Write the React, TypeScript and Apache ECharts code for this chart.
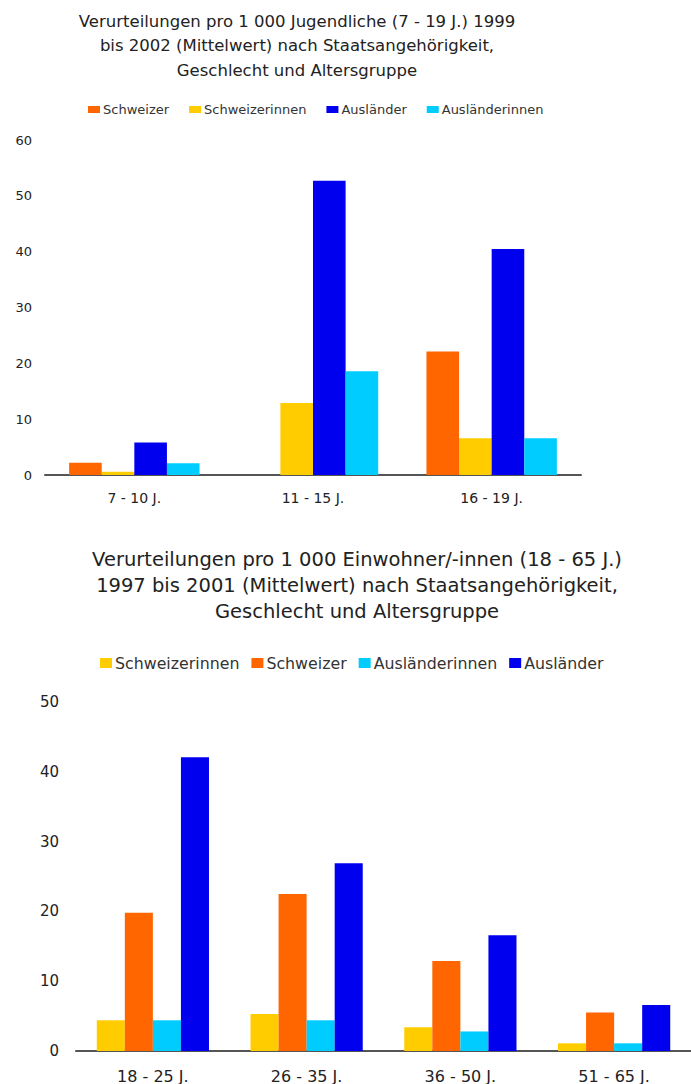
import React, { useEffect, useRef } from "react";
import * as echarts from "echarts";

const topCategories = ["7 - 10 J.", "11 - 15 J.", "16 - 19 J."];
const topSchweizer = [2.2, 0, 22.1];
const topSchweizerinnen = [0.6, 12.9, 6.6];
const topAuslaender = [5.8, 52.7, 40.5];
const topAuslaenderinnen = [2.1, 18.6, 6.6];
const topTicks = { min: 0, max: 60, interval: 10 };

const botCategories = ["18 - 25 J.", "26 - 35 J.", "36 - 50 J.", "51 - 65 J."];
const botSchweizerinnen = [4.4, 5.3, 3.4, 1.1];
const botSchweizer = [19.8, 22.5, 12.9, 5.5];
const botAuslaenderinnen = [4.4, 4.4, 2.8, 1.1];
const botAuslaender = [42.1, 26.9, 16.6, 6.6];
const botTicks = { min: 0, max: 50, interval: 10 };

const topTitle = "Verurteilungen pro 1 000 Jugendliche (7 - 19 J.) 1999\nbis 2002 (Mittelwert) nach Staatsangehörigkeit,\nGeschlecht und Altersgruppe";
const botTitle = "Verurteilungen pro 1 000 Einwohner/-innen (18 - 65 J.)\n1997 bis 2001 (Mittelwert) nach Staatsangehörigkeit,\nGeschlecht und Altersgruppe";

const ORANGE = "#FF6600";
const YELLOW = "#FFCC00";
const BLUE = "#0000EE";
const CYAN = "#00CCFF";
const FONT = "'DejaVu Sans'";

export default function App() {
  const ref = useRef<HTMLDivElement>(null);
  useEffect(() => {
    if (!ref.current) return;
    const chart = echarts.init(ref.current, undefined, { renderer: "svg" });
    const bar = (name: string, data: number[], color: string, idx: number) => ({
      name,
      type: "bar",
      xAxisIndex: idx,
      yAxisIndex: idx,
      data,
      barGap: "0%",
      barCategoryGap: "27%",
      itemStyle: { color },
      emphasis: { disabled: true },
    });
    chart.setOption({
      animation: false,
      backgroundColor: "#ffffff",
      graphic: [
        {
          type: "text",
          x: 297,
          y: 9,
          style: {
            text: topTitle,
            textAlign: "center",
            textVerticalAlign: "top",
            font: `16.5px ${FONT}`,
            lineHeight: 24.5,
            fill: "#222",
          },
        },
        {
          type: "text",
          x: 357,
          y: 546,
          style: {
            text: botTitle,
            textAlign: "center",
            textVerticalAlign: "top",
            font: `19.5px ${FONT}`,
            lineHeight: 26,
            fill: "#222",
          },
        },
      ],
      legend: [
        {
          left: 83,
          top: 98,
          itemWidth: 12,
          itemHeight: 7,
          itemGap: 20,
          icon: "rect",
          data: ["Schweizer", "Schweizerinnen", "Ausländer", "Ausländerinnen"],
          textStyle: { fontFamily: FONT, fontSize: 13, color: "#333", padding: [0, 0, 0, -2] },
          selectedMode: false,
        },
        {
          left: 95,
          top: 650,
          itemWidth: 12,
          itemHeight: 10,
          itemGap: 12,
          icon: "rect",
          data: ["Schweizerinnen", "Schweizer", "Ausländerinnen", "Ausländer"],
          textStyle: { fontFamily: FONT, fontSize: 15.8, color: "#333", padding: [0, 0, 0, -2] },
          selectedMode: false,
        },
      ],
      grid: [
        { left: 45, right: 110, top: 140, bottom: 609 },
        { left: 76, right: -7, top: 702, bottom: 33 },
      ],
      xAxis: [
        {
          type: "category",
          gridIndex: 0,
          data: topCategories,
          axisLine: { lineStyle: { color: "#555", width: 2 } },
          axisTick: { show: false },
          axisLabel: { fontFamily: FONT, fontSize: 14, color: "#222", margin: 16 },
        },
        {
          type: "category",
          gridIndex: 1,
          data: botCategories,
          axisLine: { lineStyle: { color: "#555", width: 2 } },
          axisTick: { show: false },
          axisLabel: { fontFamily: FONT, fontSize: 16, color: "#222", margin: 17 },
        },
      ],
      yAxis: [
        {
          type: "value",
          gridIndex: 0,
          ...topTicks,
          axisLine: { show: false },
          axisTick: { show: false },
          splitLine: { show: false },
          axisLabel: { fontFamily: FONT, fontSize: 13, color: "#222", margin: 13 },
        },
        {
          type: "value",
          gridIndex: 1,
          ...botTicks,
          axisLine: { show: false },
          axisTick: { show: false },
          splitLine: { show: false },
          axisLabel: { fontFamily: FONT, fontSize: 15, color: "#222", margin: 17 },
        },
      ],
      series: [
        bar("Schweizer", topSchweizer, ORANGE, 0),
        bar("Schweizerinnen", topSchweizerinnen, YELLOW, 0),
        bar("Ausländer", topAuslaender, BLUE, 0),
        bar("Ausländerinnen", topAuslaenderinnen, CYAN, 0),
        bar("Schweizerinnen", botSchweizerinnen, YELLOW, 1),
        bar("Schweizer", botSchweizer, ORANGE, 1),
        bar("Ausländerinnen", botAuslaenderinnen, CYAN, 1),
        bar("Ausländer", botAuslaender, BLUE, 1),
      ],
    });
    return () => chart.dispose();
  }, []);
  return (
    <div
      ref={ref}
      style={{ position: "absolute", left: 0, top: 0, width: 691, height: 1084 }}
    />
  );
}
